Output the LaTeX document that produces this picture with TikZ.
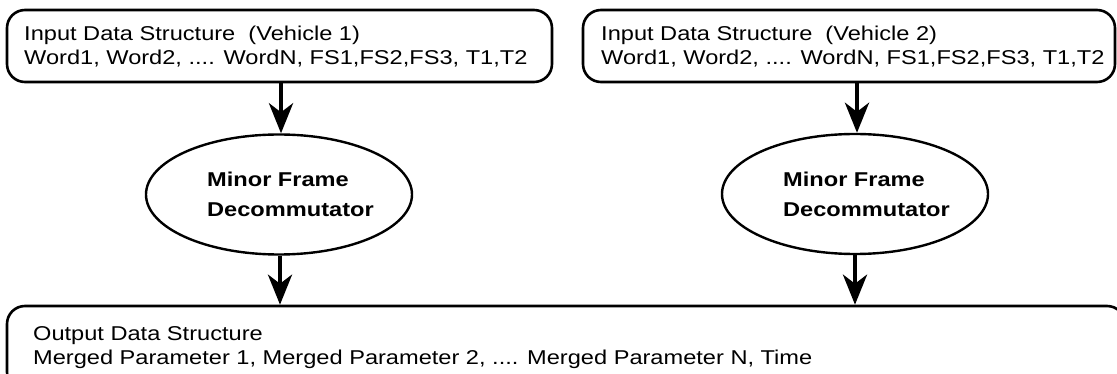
\documentclass[tikz,border=0pt]{standalone}
\usepackage{fontspec}
\setmainfont[FakeStretch=1.18]{Liberation Sans}
\usetikzlibrary{arrows.meta,shapes.geometric}
\tikzset{
  databox/.style={draw, line width=2.6pt, rounded corners=18pt, inner sep=0pt},
  proc/.style={draw, ellipse, line width=2.4pt, inner sep=0pt, minimum width=266pt, minimum height=120pt},
  boxtext/.style={anchor=west, inner sep=0pt, align=left, font=\fontsize{20}{24}\selectfont},
  proctext/.style={anchor=west, inner sep=0pt, align=left, font=\fontsize{20}{30}\selectfont\bfseries},
  arr/.style={line width=4.5pt, -{Stealth[length=30pt, width=24pt, inset=9pt]}}
}
\begin{document}
\begin{tikzpicture}[x=1pt, y=-1pt]
\useasboundingbox (0,0) rectangle (1117,374);
% input boxes
\node[databox, minimum width=545pt, minimum height=72pt] (in1) at (279.5,46) {};
\node[databox, minimum width=532pt, minimum height=72pt] (in2) at (849,46) {};
\node[boxtext] (t1) at (24,48.2) {\strut Input Data Structure\ \ (Vehicle 1)\\\strut Word1, Word2, .... WordN, FS1,FS2,FS3, T1,T2};
\node[boxtext] (t2) at (601,48.2) {\strut Input Data Structure\ \ (Vehicle 2)\\\strut Word1, Word2, .... WordN, FS1,FS2,FS3, T1,T2};
% decommutators
\node[proc] (e1) at (279,194.5) {};
\node[proc] (e2) at (855,194) {};
\node[proctext] (p1) at (207,196) {\strut Minor Frame\\\strut Decommutator};
\node[proctext] (p2) at (783,196) {\strut Minor Frame\\\strut Decommutator};
% output box
\node[databox, minimum width=1118pt, minimum height=84pt] (out) at (566,348) {};
\node[boxtext] (t3) at (33,347.2) {\strut Output Data Structure\\\strut Merged Parameter 1, Merged Parameter 2, .... Merged Parameter N, Time};
% connectors
\draw[arr] ([xshift=2pt]e1.north |- in1.south) -- ([xshift=2pt]e1.north);
\draw[arr] ([xshift=2pt]e2.north |- in2.south) -- ([xshift=2pt]e2.north);
\draw[arr] ([xshift=1pt]e1.south) -- ([xshift=1pt]e1.south |- out.north);
\draw[arr] (e2.south) -- (e2.south |- out.north);
\end{tikzpicture}
\end{document}
